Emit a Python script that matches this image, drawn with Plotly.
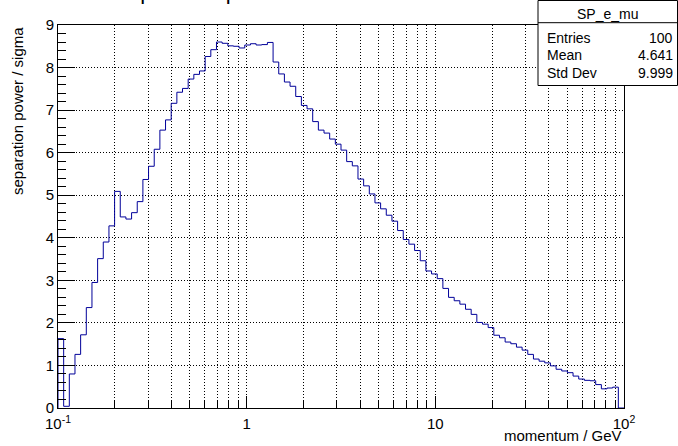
import numpy as np
import plotly.graph_objects as go

# ---- data ----
x_min, x_max, n_bins = 0.1, 100.0, 100
sp_values = [
    1.63, 0.04, 0.80, 1.26, 1.72, 2.36, 2.95, 3.51, 3.90, 4.28,
    5.09, 4.49, 4.44, 4.59, 4.85, 5.37, 5.68, 6.08, 6.53, 6.77,
    7.16, 7.42, 7.51, 7.73, 7.84, 7.92, 8.26, 8.42, 8.60, 8.57,
    8.51, 8.50, 8.46, 8.53, 8.56, 8.53, 8.54, 8.59, 8.13, 7.85,
    7.66, 7.56, 7.32, 7.11, 7.03, 6.73, 6.53, 6.46, 6.32, 6.20,
    6.06, 5.79, 5.69, 5.38, 5.22, 5.03, 4.82, 4.68, 4.53, 4.39,
    4.17, 3.96, 3.85, 3.70, 3.46, 3.22, 3.15, 3.04, 2.81, 2.60,
    2.52, 2.44, 2.32, 2.20, 2.01, 1.97, 1.89, 1.71, 1.65, 1.55,
    1.51, 1.43, 1.36, 1.26, 1.15, 1.10, 1.06, 0.99, 0.91, 0.87,
    0.83, 0.75, 0.68, 0.65, 0.64, 0.55, 0.45, 0.47, 0.49, 0.0,
]
x_major_ticks = [0.1, 1, 10, 100]
x_major_labels = ["10<sup>-1</sup>", "1", "10", "10<sup>2</sup>"]
x_minor_ticks = [m * d for d in (0.1, 1, 10) for m in range(2, 10)]
y_ticks = list(range(0, 10))
stats_title = "SP_e_mu"
stats_names = ["Entries", "Mean", "Std Dev"]
stats_vals = ["100", "4.641", "9.999"]
hist_title = "separation power e / mu"
x_title = "momentum / GeV"
y_title = "separation power / sigma"

edges = np.logspace(np.log10(x_min), np.log10(x_max), n_bins + 1)
xs = [edges[0]] + list(edges)
ys = [0.0] + list(sp_values) + [sp_values[-1]]

FONT = "Liberation Sans, Arial, Helvetica, sans-serif"
W, H = 678, 446
L, R, T, B = 58, 624, 25, 408
PW, PH = R - L, B - T


def px(x):
    return (x - L) / PW


def py(y):
    return (B - y) / PH


fig = go.Figure()
fig.add_trace(go.Scatter(
    x=xs, y=ys, mode="lines", line=dict(shape="hv", color="#000099", width=1),
    showlegend=False, hoverinfo="skip",
))

fig.update_layout(
    width=W, height=H,
    margin=dict(l=L, r=W - R, t=T, b=H - B, pad=0),
    paper_bgcolor="white", plot_bgcolor="white",
    font=dict(family=FONT, size=15, color="black"),
    showlegend=False,
)

fig.update_xaxes(
    type="log", range=[np.log10(x_min), np.log10(x_max)],
    tickmode="array", tickvals=x_major_ticks, ticktext=x_major_labels,
    ticks="inside", ticklen=12, tickwidth=1, tickcolor="black",
    showline=True, linecolor="black", linewidth=1, mirror=True,
    showgrid=True, gridcolor="black", gridwidth=1, griddash="1px,2px",
    zeroline=False, tickfont=dict(size=15, family=FONT, color="black"),
    ticklabelstandoff=2,
    minor=dict(tickmode="array", tickvals=x_minor_ticks, ticks="inside",
               ticklen=7, tickcolor="black", tickwidth=1,
               showgrid=True, gridcolor="black", gridwidth=1, griddash="1px,2px"),
)
fig.update_yaxes(
    range=[0, 9], tickmode="array", tickvals=y_ticks,
    ticks="inside", ticklen=17, tickwidth=1, tickcolor="black",
    showline=True, linecolor="black", linewidth=1, mirror=True,
    showgrid=True, gridcolor="black", gridwidth=1, griddash="1px,2px",
    zeroline=False, tickfont=dict(size=15, family=FONT, color="black"),
    minor=dict(dtick=0.2, ticks="inside", ticklen=8, tickcolor="black",
               tickwidth=1, showgrid=False),
)

# stats box
fig.add_shape(type="rect", xref="paper", yref="paper",
              x0=px(538), x1=px(677.5), y0=py(85.5), y1=py(0.5),
              line=dict(color="black", width=1), fillcolor="white", layer="above")
fig.add_shape(type="line", xref="paper", yref="paper",
              x0=px(538), x1=px(677.5), y0=py(22.7), y1=py(22.7),
              line=dict(color="black", width=1), layer="above")

ann = []
ann.append(dict(text=stats_title, x=px(607.5), y=py(14), xref="paper", yref="paper",
                xanchor="center", yanchor="middle", showarrow=False,
                font=dict(size=14, family=FONT, color="black")))
for i, (n, v) in enumerate(zip(stats_names, stats_vals)):
    yc = [37.5, 54.5, 72.5][i]
    ann.append(dict(text=n, x=px(545), y=py(yc), xref="paper", yref="paper",
                    xanchor="left", yanchor="middle", showarrow=False,
                    font=dict(size=14, family=FONT, color="black")))
    ann.append(dict(text=v, x=px(675), y=py(yc), xref="paper", yref="paper",
                    xanchor="right", yanchor="middle", showarrow=False,
                    font=dict(size=14, family=FONT, color="black")))

# axis titles (ROOT style: right / top aligned)
ann.append(dict(text=x_title, x=px(624), y=py(436), xref="paper", yref="paper",
                xanchor="right", yanchor="middle", showarrow=False,
                font=dict(size=15, family=FONT, color="black")))
ann.append(dict(text=y_title, x=px(17), y=py(25), xref="paper", yref="paper",
                xanchor="center", yanchor="top", textangle=-90, showarrow=False,
                font=dict(size=15, family=FONT, color="black")))
# histogram title, mostly above the visible canvas
ann.append(dict(text=hist_title, x=px(115), y=py(6.3), xref="paper", yref="paper",
                xanchor="left", yanchor="bottom", showarrow=False,
                font=dict(size=22, family=FONT, color="black")))
fig.update_layout(annotations=ann)

fig.write_html(
    "out.html",
    config={"displayModeBar": False, "staticPlot": True},
    post_script="document.body.style.margin='0';document.body.style.overflow='hidden';",
)
